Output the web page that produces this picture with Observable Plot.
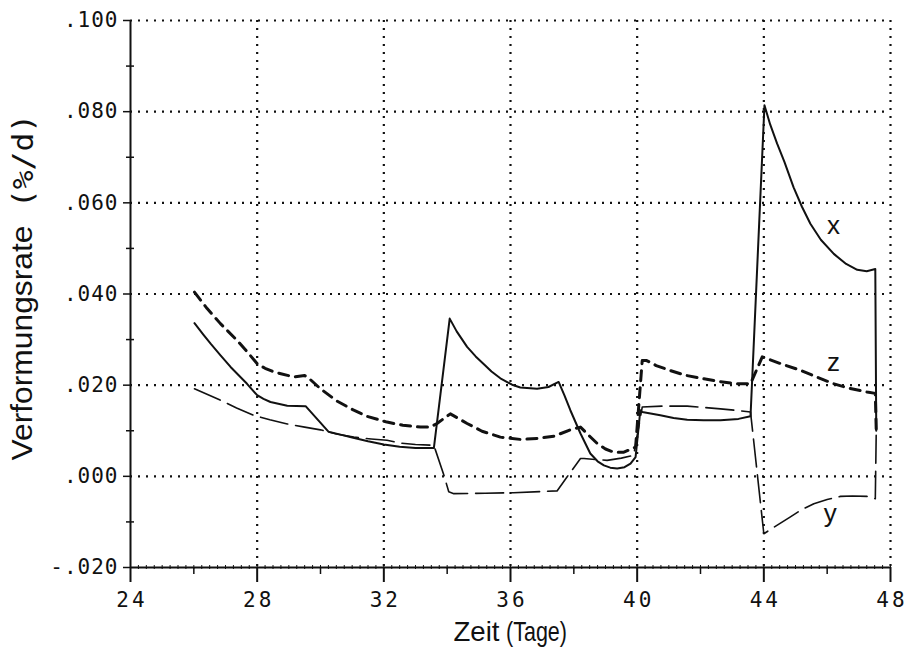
<!DOCTYPE html>
<html><head><meta charset="utf-8">
<script src="https://cdn.jsdelivr.net/npm/d3@7"></script>
<script src="https://cdn.jsdelivr.net/npm/@observablehq/plot@0.6"></script>
<style>
body{margin:0;background:#fff;}
</style></head><body><div id="chart"></div>
<script>
// Series x (solid)
const xDays = [26.02, 26.3, 26.53, 26.85, 27.16, 27.68, 28.0, 28.2, 28.42, 28.95, 29.53, 30.25, 30.6, 31.0, 31.5, 32.0, 32.5, 33.0, 33.58, 34.08, 34.3, 34.63, 34.9, 35.16, 35.4, 35.68, 36.05, 36.31, 36.84, 37.2, 37.52, 37.7, 37.89, 38.21, 38.52, 38.75, 38.95, 39.15, 39.37, 39.6, 39.79, 39.95, 40.1, 40.16, 40.73, 41.15, 41.58, 42.1, 42.63, 43.2, 43.58, 44.02, 44.2, 44.42, 44.65, 44.94, 45.2, 45.47, 45.8, 46.21, 46.6, 46.95, 47.25, 47.52, 47.55];
const xVals = [0.0336, 0.0311, 0.0291, 0.0265, 0.0240, 0.0203, 0.0178, 0.0170, 0.0163, 0.0155, 0.0154, 0.0098, 0.0092, 0.0085, 0.0077, 0.0070, 0.0065, 0.0062, 0.0062, 0.0346, 0.0318, 0.0284, 0.0263, 0.0246, 0.0230, 0.0215, 0.0201, 0.0195, 0.0192, 0.0196, 0.0207, 0.0178, 0.0145, 0.0094, 0.0050, 0.0033, 0.0024, 0.0019, 0.0017, 0.0020, 0.0028, 0.0042, 0.0145, 0.0141, 0.0134, 0.0128, 0.0124, 0.0123, 0.0123, 0.0126, 0.0132, 0.0814, 0.0772, 0.0730, 0.0690, 0.0634, 0.0592, 0.0554, 0.0519, 0.0488, 0.0466, 0.0453, 0.0450, 0.0455, 0.0100];
// Series y (long dashes)
const yDays = [26.02, 26.84, 27.35, 27.89, 28.4, 28.95, 29.5, 30.0, 30.5, 31.05, 31.6, 32.1, 32.53, 33.0, 33.58, 33.9, 34.05, 34.21, 35.2, 36.1, 37.47, 37.79, 38.21, 38.32, 39.05, 39.5, 39.89, 40.16, 40.8, 41.58, 42.63, 43.1, 43.58, 44.0, 44.4, 44.84, 45.2, 45.58, 46.0, 46.42, 46.8, 47.26, 47.52, 47.55];
const yVals = [0.0192, 0.0167, 0.0150, 0.0134, 0.0124, 0.0115, 0.0108, 0.0102, 0.0093, 0.0086, 0.0082, 0.0079, 0.0073, 0.0070, 0.0068, 0.0002, -0.0034, -0.0038, -0.0037, -0.0036, -0.0032, -0.0001, 0.0039, 0.0039, 0.0035, 0.0040, 0.0046, 0.0152, 0.0154, 0.0154, 0.0148, 0.0145, 0.0141, -0.0126, -0.0108, -0.0089, -0.0073, -0.0060, -0.0051, -0.0044, -0.0043, -0.0044, -0.0049, 0.0100];
// Series z (short dashes)
const zDays = [26.02, 26.42, 26.84, 27.37, 27.7, 28.0, 28.25, 28.53, 29.16, 29.5, 29.62, 30.0, 30.5, 31.05, 31.5, 32.1, 32.6, 33.16, 33.47, 33.68, 34.1, 34.63, 35.1, 35.68, 36.31, 36.84, 37.37, 37.89, 38.21, 38.5, 38.74, 39.0, 39.26, 39.58, 39.95, 40.16, 40.3, 40.6, 41.05, 41.5, 42.1, 42.6, 43.16, 43.58, 43.95, 44.5, 45.18, 45.7, 46.21, 46.7, 47.26, 47.52, 47.55];
const zVals = [0.0404, 0.0368, 0.0335, 0.0298, 0.0272, 0.0247, 0.0237, 0.0229, 0.0218, 0.0221, 0.0216, 0.0192, 0.0166, 0.0145, 0.0131, 0.0119, 0.0112, 0.0108, 0.0108, 0.0116, 0.0137, 0.0116, 0.0099, 0.0086, 0.0081, 0.0083, 0.0088, 0.0102, 0.0108, 0.0088, 0.0072, 0.0060, 0.0053, 0.0053, 0.0064, 0.0254, 0.0254, 0.0243, 0.0232, 0.0222, 0.0214, 0.0208, 0.0203, 0.0203, 0.0262, 0.0248, 0.0232, 0.0217, 0.0203, 0.0193, 0.0185, 0.0182, 0.0100];

// Curve labels
const labelNames = ["x", "z", "y"];
const labelDays = [46.2, 46.2, 46.1];
const labelVals = [0.055, 0.025, -0.0081];

// Ticks
const xMajorTicks = [24, 28, 32, 36, 40, 44, 48];
const xMinorTicks = [26, 30, 34, 38, 42, 46];
const xTinyTicks = d3.range(24, 48.01, 0.25);
const xGridLines = [28, 32, 36, 40, 44, 48];
const yMajorTicks = [-0.02, 0, 0.02, 0.04, 0.06, 0.08, 0.1];
const yMinorTicks = [-0.01, 0.01, 0.03, 0.05, 0.07, 0.09];
const yGridLines = [0, 0.02, 0.04, 0.06, 0.08, 0.1];

const xTitle = ["Zeit", "(Tage)"];
const yTitle = ["Verformungsrate", "(%/d)"];

const mk = (days, vals) => days.map((d, i) => ({day: d, value: vals[i]}));
const xData = mk(xDays, xVals), yData = mk(yDays, yVals), zData = mk(zDays, zVals);
const labels = labelNames.map((n, i) => ({name: n, day: labelDays[i], value: labelVals[i]}));
const fmtY = d => (d < 0 ? "-" : "") + Math.abs(d).toFixed(3).slice(1);
const mono = "DejaVu Sans Mono";
const sans = "Liberation Sans";
const ink = "#111";

const chart = Plot.plot({
  width: 914, height: 651,
  marginLeft: 130, marginRight: 24, marginTop: 20, marginBottom: 84,
  x: {domain: [24, 48]},
  y: {domain: [-0.02, 0.1]},
  style: {background: "#fff", color: ink},
  marks: [
    Plot.gridX(xGridLines, {stroke: ink, strokeOpacity: 1, strokeWidth: 2.2, strokeDasharray: "2,6"}),
    Plot.gridY(yGridLines, {stroke: ink, strokeOpacity: 1, strokeWidth: 2.2, strokeDasharray: "2,6"}),
    Plot.ruleX([24], {y1: -0.02, y2: 0.1, stroke: ink, strokeWidth: 2}),
    Plot.ruleY([-0.02], {x1: 24, x2: 48, stroke: ink, strokeWidth: 2}),
    Plot.axisY(yMajorTicks, {tickSize: 7, tickPadding: 5, tickFormat: fmtY, fontFamily: mono, fontSize: 21, label: null, stroke: ink, strokeWidth: 1.5}),
    Plot.axisY(yMinorTicks, {tickSize: 8, dx: 4, tickFormat: () => "", label: null, stroke: ink, strokeWidth: 1.5}),
    Plot.axisX(xMajorTicks, {tickSize: 15, tickPadding: 10, tickFormat: d => String(d), fontFamily: mono, fontSize: 21, label: null, stroke: ink, strokeWidth: 2}),
    Plot.axisX(xMinorTicks, {tickSize: 7, tickFormat: () => "", label: null, stroke: ink, strokeWidth: 1.5}),
    Plot.axisX(xTinyTicks, {tickSize: 4, dy: -2, tickFormat: () => "", label: null, stroke: ink, strokeWidth: 1}),
    Plot.line(yData, {x: "day", y: "value", stroke: ink, strokeWidth: 1.6, strokeDasharray: "28,8"}),
    Plot.line(zData, {x: "day", y: "value", stroke: ink, strokeWidth: 3, strokeDasharray: "10,7"}),
    Plot.line(xData, {x: "day", y: "value", stroke: ink, strokeWidth: 2}),
    Plot.text(labels, {x: "day", y: "value", text: "name", fontFamily: sans, fontSize: 26, fill: ink}),
    Plot.text([yTitle[0]], {frameAnchor: "left", text: d => d, rotate: -90, textAnchor: "middle", lineAnchor: "middle", dx: -108, dy: 49, fontFamily: sans, fontSize: 30, fill: ink}),
    Plot.text([yTitle[1]], {frameAnchor: "left", text: d => d, rotate: -90, textAnchor: "middle", lineAnchor: "middle", dx: -106, dy: -133, fontFamily: mono, fontSize: 28, fill: ink}),
    Plot.text([xTitle[0]], {frameAnchor: "bottom", text: d => d, textAnchor: "middle", lineAnchor: "middle", dx: -34, dy: 65, fontFamily: sans, fontSize: 28, fill: ink}),
    Plot.text([xTitle[1]], {frameAnchor: "bottom", text: d => d, textAnchor: "middle", lineAnchor: "middle", dx: 26, dy: 65, fontFamily: sans, fontSize: 28, fill: ink})
  ]
});
d3.select(chart).selectAll('g[aria-label="y-axis tick label"] text').attr("letter-spacing", 1);
d3.select(chart).selectAll('g[aria-label="x-axis tick label"] text').attr("letter-spacing", 3).attr("dx", 1.5);
// fit title widths to the reference
const fitWidths = {"Verformungsrate": 235, "(%/d)": 94, "Zeit": 46, "(Tage)": 61};
d3.select(chart).selectAll("text").each(function() {
  const t = this.textContent;
  if (fitWidths[t]) d3.select(this).attr("textLength", fitWidths[t]).attr("lengthAdjust", "spacingAndGlyphs");
});
document.getElementById("chart").appendChild(chart);
</script></body></html>
